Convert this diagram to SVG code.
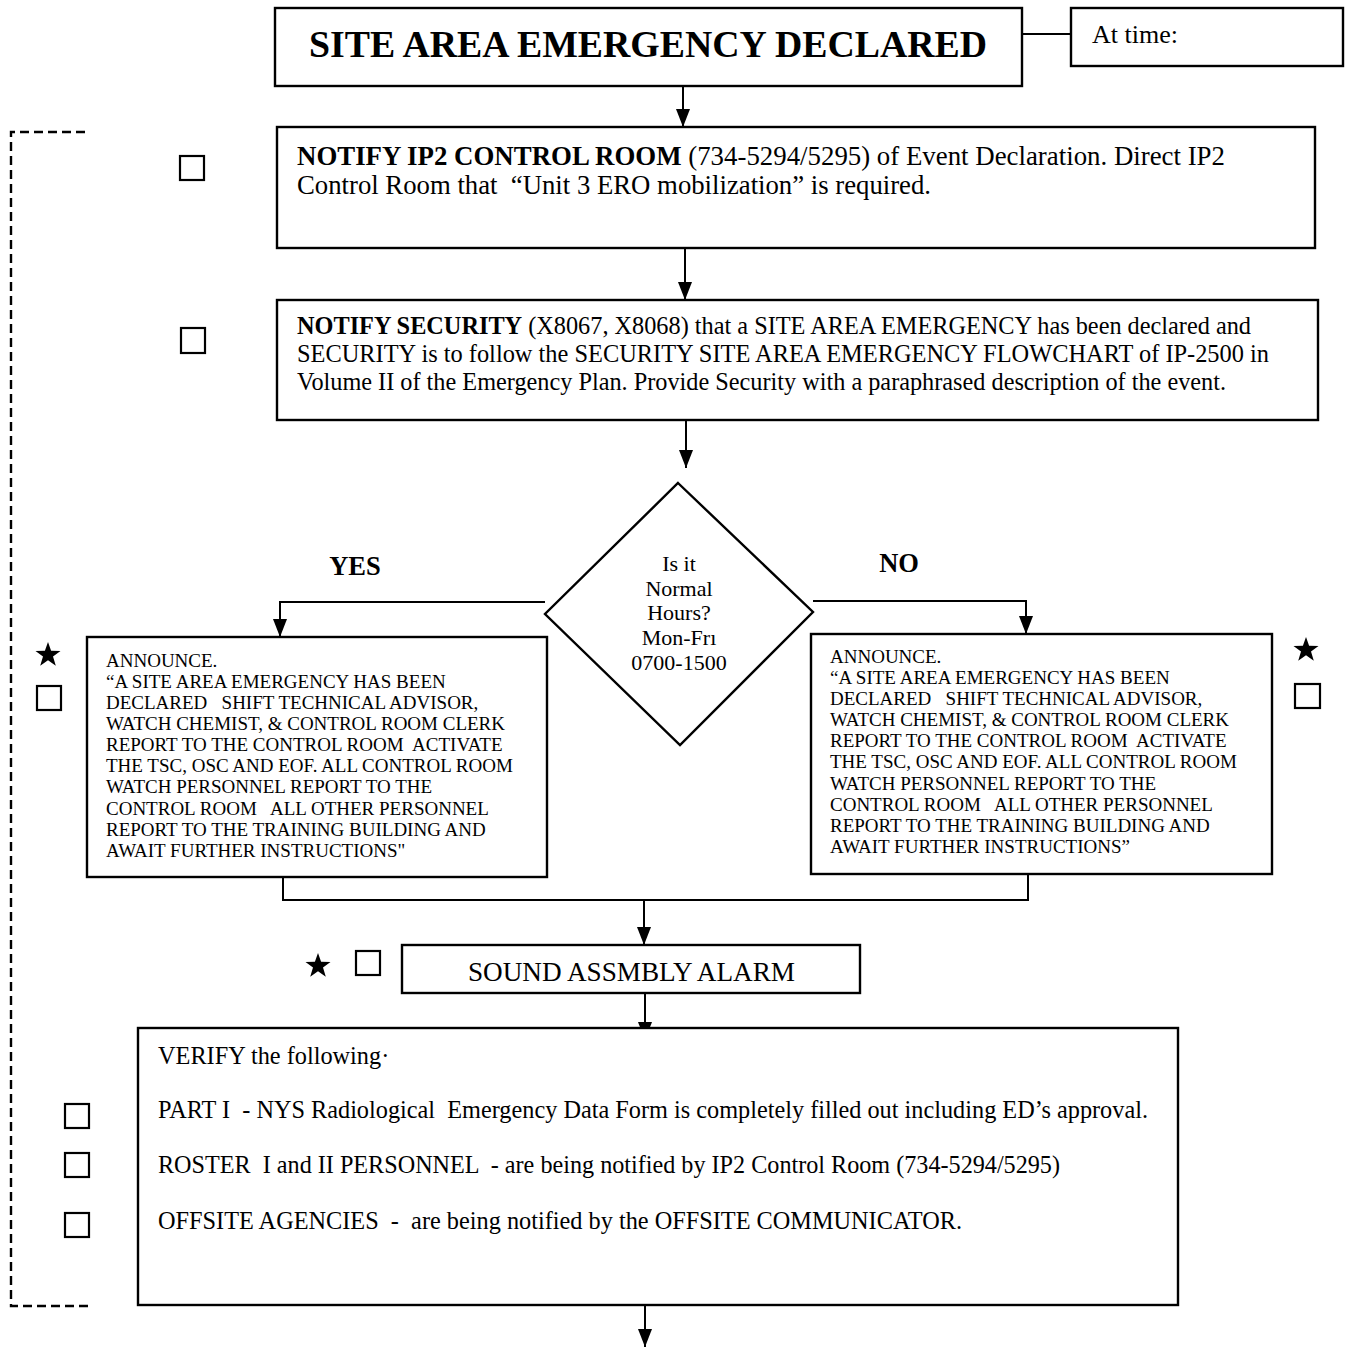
<svg xmlns="http://www.w3.org/2000/svg" xmlns:xlink="http://www.w3.org/1999/xlink" width="1347" height="1349" viewBox="0 0 1347 1349">
  <style>
    .box { fill: #fff; stroke: #000; stroke-width: 2.4; }
    .chk { fill: none; stroke: #000; stroke-width: 2.2; }
    .wire { fill: none; stroke: #000; stroke-width: 2; }
    .dash { fill: none; stroke: #000; stroke-width: 2.4; stroke-dasharray: 9 5; }
    text { font-family: "Liberation Serif", "Times New Roman", serif; fill: #000; white-space: pre; }
    .ip2 { font-size: 26.5px; }
    .sec { font-size: 24.3px; }
    .ver { font-size: 24.3px; }
    .dia { font-size: 22px; }
    .ann { font-size: 19px; }
    .lbl { font-size: 26.5px; font-weight: bold; }
    .b { font-weight: bold; }
  </style>
  <defs>
    <marker id="head" viewBox="0 0 18 14" refX="18" refY="7" markerWidth="18" markerHeight="14" markerUnits="userSpaceOnUse" orient="auto">
      <path d="M0,0 L18,7 L0,14 Z" fill="#000"/>
    </marker>
    <path id="star" d="M0,-13 L3.1,-4.3 L12.5,-4.1 L5,1.6 L7.8,10.7 L0,5.3 L-7.8,10.7 L-5,1.6 L-12.5,-4.1 L-3.1,-4.3 Z" fill="#000"/>
  </defs>

  <!-- connectors -->
  <g id="connectors">
    <path class="wire" d="M1022,34 H1071"/>
    <path class="wire" d="M683,86 V127" marker-end="url(#head)"/>
    <path class="wire" d="M685,248 V300" marker-end="url(#head)"/>
    <path class="wire" d="M686,420 V468" marker-end="url(#head)"/>
    <path class="wire" d="M545,602 H280 V637" marker-end="url(#head)"/>
    <path class="wire" d="M813,601 H1026 V634" marker-end="url(#head)"/>
    <path class="wire" d="M283,877 V900 H1028 V874"/>
    <path class="wire" d="M644,900 V945" marker-end="url(#head)"/>
    <path class="wire" d="M645,993 V1040" marker-end="url(#head)"/>
    <path class="wire" d="M645,1305 V1347" marker-end="url(#head)"/>
    <path class="dash" d="M85,132 H11 V1306 H92"/>
  </g>

  <g id="declared">
    <rect class="box" x="275" y="8" width="747" height="78"/>
    <text class="b" x="309" y="57" font-size="37" textLength="678" lengthAdjust="spacingAndGlyphs">SITE AREA EMERGENCY DECLARED</text>
  </g>

  <g id="at-time">
    <rect class="box" x="1071" y="8" width="272" height="58"/>
    <text x="1092" y="43" font-size="26">At time:</text>
  </g>

  <g id="notify-ip2">
    <rect class="chk" x="180" y="156" width="24" height="24"/>
    <rect class="box" x="277" y="127" width="1038" height="121"/>
    <text class="ip2" x="297" y="165" textLength="928" lengthAdjust="spacingAndGlyphs"><tspan class="b">NOTIFY IP2 CONTROL ROOM</tspan> (734-5294/5295) of Event Declaration. Direct IP2</text>
    <text class="ip2" x="297" y="194" textLength="634" lengthAdjust="spacingAndGlyphs">Control Room that  “Unit 3 ERO mobilization” is required.</text>
  </g>

  <g id="notify-security">
    <rect class="chk" x="181" y="328" width="24" height="25"/>
    <rect class="box" x="277" y="300" width="1041" height="120"/>
    <text class="sec" x="297" y="334" textLength="954" lengthAdjust="spacingAndGlyphs"><tspan class="b">NOTIFY SECURITY</tspan> (X8067, X8068) that a SITE AREA EMERGENCY has been declared and</text>
    <text class="sec" x="297" y="362" textLength="972" lengthAdjust="spacingAndGlyphs">SECURITY is to follow the SECURITY SITE AREA EMERGENCY FLOWCHART of IP-2500 in</text>
    <text class="sec" x="297" y="390" textLength="929" lengthAdjust="spacingAndGlyphs">Volume II of the Emergency Plan. Provide Security with a paraphrased description of the event.</text>
  </g>

  <g id="normal-hours">
    <polygon class="box" points="678,483 813,612 680,745 545,614"/>
    <text class="dia" x="679" y="571" text-anchor="middle">Is it</text>
    <text class="dia" x="679" y="596" text-anchor="middle">Normal</text>
    <text class="dia" x="679" y="620" text-anchor="middle">Hours?</text>
    <text class="dia" x="679" y="645" text-anchor="middle">Mon-Frı</text>
    <text class="dia" x="679" y="670" text-anchor="middle">0700-1500</text>
  </g>

  <g id="labels">
    <text class="lbl" x="355" y="575" text-anchor="middle">YES</text>
    <text class="lbl" x="899" y="572" text-anchor="middle">NO</text>
  </g>

  <g id="announce-yes">
    <use xlink:href="#star" x="48" y="655"/>
    <rect class="chk" x="37" y="686" width="24" height="24"/>
    <rect class="box" x="87" y="637" width="460" height="240"/>
    <text class="ann" x="106" y="667">ANNOUNCE.</text>
    <text class="ann" x="106" y="688">“A SITE AREA EMERGENCY HAS BEEN</text>
    <text class="ann" x="106" y="709">DECLARED   SHIFT TECHNICAL ADVISOR,</text>
    <text class="ann" x="106" y="730">WATCH CHEMIST, &amp; CONTROL ROOM CLERK</text>
    <text class="ann" x="106" y="751">REPORT TO THE CONTROL ROOM  ACTIVATE</text>
    <text class="ann" x="106" y="772">THE TSC, OSC AND EOF. ALL CONTROL ROOM</text>
    <text class="ann" x="106" y="793">WATCH PERSONNEL REPORT TO THE</text>
    <text class="ann" x="106" y="815">CONTROL ROOM   ALL OTHER PERSONNEL</text>
    <text class="ann" x="106" y="836">REPORT TO THE TRAINING BUILDING AND</text>
    <text class="ann" x="106" y="857">AWAIT FURTHER INSTRUCTIONS"</text>
  </g>

  <g id="announce-no">
    <use xlink:href="#star" x="1306" y="650"/>
    <rect class="chk" x="1295" y="684" width="25" height="24"/>
    <rect class="box" x="811" y="634" width="461" height="240"/>
    <text class="ann" x="830" y="663">ANNOUNCE.</text>
    <text class="ann" x="830" y="684">“A SITE AREA EMERGENCY HAS BEEN</text>
    <text class="ann" x="830" y="705">DECLARED   SHIFT TECHNICAL ADVISOR,</text>
    <text class="ann" x="830" y="726">WATCH CHEMIST, &amp; CONTROL ROOM CLERK</text>
    <text class="ann" x="830" y="747">REPORT TO THE CONTROL ROOM  ACTIVATE</text>
    <text class="ann" x="830" y="768">THE TSC, OSC AND EOF. ALL CONTROL ROOM</text>
    <text class="ann" x="830" y="790">WATCH PERSONNEL REPORT TO THE</text>
    <text class="ann" x="830" y="811">CONTROL ROOM   ALL OTHER PERSONNEL</text>
    <text class="ann" x="830" y="832">REPORT TO THE TRAINING BUILDING AND</text>
    <text class="ann" x="830" y="853">AWAIT FURTHER INSTRUCTIONS”</text>
  </g>

  <g id="sound-alarm">
    <use xlink:href="#star" x="318" y="966"/>
    <rect class="chk" x="356" y="951" width="24" height="24"/>
    <rect class="box" x="402" y="945" width="458" height="48"/>
    <text x="468" y="981" font-size="27" textLength="327" lengthAdjust="spacingAndGlyphs">SOUND ASSMBLY ALARM</text>
  </g>

  <g id="verify">
    <rect class="box" x="138" y="1028" width="1040" height="277"/>
    <rect class="chk" x="65" y="1104" width="24" height="24"/>
    <rect class="chk" x="65" y="1153" width="24" height="24"/>
    <rect class="chk" x="65" y="1213" width="24" height="24"/>
    <text class="ver" x="158" y="1064">VERIFY the following·</text>
    <text class="ver" x="158" y="1118" textLength="990" lengthAdjust="spacingAndGlyphs">PART I  - NYS Radiological  Emergency Data Form is completely filled out including ED’s approval.</text>
    <text class="ver" x="158" y="1173" textLength="902" lengthAdjust="spacingAndGlyphs">ROSTER  I and II PERSONNEL  - are being notified by IP2 Control Room (734-5294/5295)</text>
    <text class="ver" x="158" y="1229" textLength="804" lengthAdjust="spacingAndGlyphs">OFFSITE AGENCIES  -  are being notified by the OFFSITE COMMUNICATOR.</text>
  </g>
</svg>
